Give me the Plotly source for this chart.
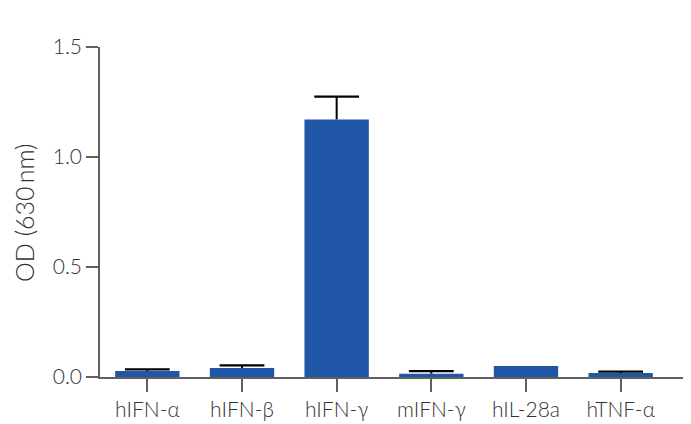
import plotly.graph_objects as go

categories = ["hIFN-α", "hIFN-β", "hIFN-γ", "mIFN-γ", "hIL-28a", "hTNF-α"]
od_values = [0.027, 0.041, 1.171, 0.015, 0.050, 0.018]
od_errors = [0.008, 0.012, 0.103, 0.012, None, 0.006]
y_title = "OD (630\u2009nm)"

xpos = list(range(len(categories)))

fig = go.Figure()
fig.add_trace(go.Bar(
    x=xpos,
    y=od_values,
    width=0.68,
    marker=dict(color="#1f56a5", line=dict(width=0)),
))

# upper error bars only (cap drawn as a marker at the top, stem as error bar)
ex = [x for x, e in zip(xpos, od_errors) if e is not None]
etop = [v + e for v, e in zip(od_values, od_errors) if e is not None]
ee = [e for e in od_errors if e is not None]
fig.add_trace(go.Scatter(
    x=ex, y=etop, mode="markers",
    marker=dict(symbol="line-ew-open", size=32, color="#000000",
                line=dict(color="#000000", width=2.2)),
    error_y=dict(type="data", array=[0]*len(ee), arrayminus=ee,
                 symmetric=False, color="#000000", thickness=2, width=0, visible=True),
    hoverinfo="skip",
))

fig.update_layout(
    width=683, height=416,
    margin=dict(l=92, r=6, t=39, b=47),
    paper_bgcolor="white", plot_bgcolor="white",
    showlegend=False,
    font=dict(family="Lato", color="#333333", size=21, weight=300),
)
fig.update_xaxes(
    tickmode="array", tickvals=xpos, ticktext=categories,
    range=[-0.5, 5.68], showline=True, linecolor="#606060", linewidth=1.5,
    ticks="outside", ticklen=13, tickcolor="#606060", tickwidth=1.5,
    showgrid=False, zeroline=False, automargin=False,
    tickfont=dict(size=21, family="Lato", weight=300, color="#333333"),
)
fig.update_yaxes(
    range=[0, 1.5], tickvals=[0, 0.5, 1.0, 1.5], ticktext=["0.0", "0.5", "1.0", "1.5"],
    showline=True, linecolor="#606060", linewidth=1.5,
    ticks="outside", ticklen=12, tickcolor="#606060", tickwidth=1.5,
    showgrid=False, zeroline=False, automargin=False,
    tickfont=dict(size=21, family="Lato", weight=300, color="#333333"),
)
fig.add_annotation(
    text=y_title, xref="paper", yref="paper", x=-0.13, y=0.5,
    xanchor="center", yanchor="middle", textangle=-90, showarrow=False,
    font=dict(size=25, family="Lato", weight=300, color="#333333"),
)

fig.write_html("out.html")
